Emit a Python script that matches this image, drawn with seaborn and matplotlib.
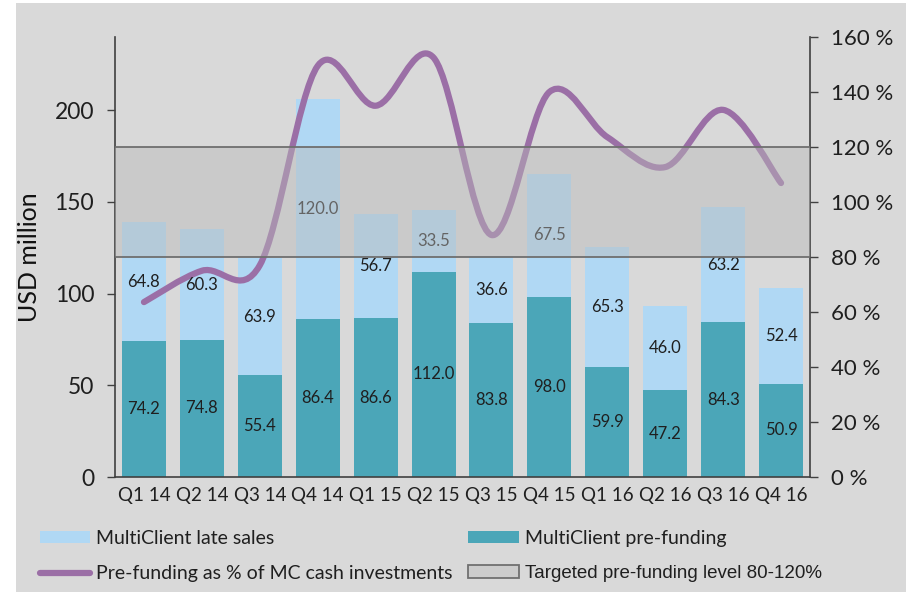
import numpy as np
import pandas as pd
import matplotlib
matplotlib.use("Agg")
import matplotlib.pyplot as plt
import seaborn as sns
from matplotlib.path import Path
from matplotlib.patches import PathPatch, Patch, Rectangle
from matplotlib.lines import Line2D

# Chart data
quarters = ["Q1 14", "Q2 14", "Q3 14", "Q4 14", "Q1 15", "Q2 15",
            "Q3 15", "Q4 15", "Q1 16", "Q2 16", "Q3 16", "Q4 16"]
prefunding = [74.2, 74.8, 55.4, 86.4, 86.6, 112.0, 83.8, 98.0, 59.9, 47.2, 84.3, 50.9]
late_sales = [64.8, 60.3, 63.9, 120.0, 56.7, 33.5, 36.6, 67.5, 65.3, 46.0, 63.2, 52.4]
prefunding_pct = [63.6, 75.0, 77.0, 149.5, 135.0, 152.5, 88.0, 140.0, 123.6, 112.7, 133.5, 106.9]
target_low, target_high = 80, 120

light_blue = "#b0d8f4"
teal = "#4ba6b8"
purple = "#9b6fa6"
bg_grey = "#d9d9d9"

sns.set_theme(style="white")
plt.rcParams["font.family"] = ["Lato", "DejaVu Sans"]
plt.rcParams["text.color"] = "#1f1f1f"

df = pd.DataFrame({"quarter": quarters, "prefunding": prefunding, "late": late_sales})
df["total"] = df["prefunding"] + df["late"]

fig = plt.figure(figsize=(9.06, 5.92), dpi=100)
fig.patch.set_facecolor("white")
fig.add_artist(Rectangle((16 / 906, 0), 1, 1 - 3 / 592, transform=fig.transFigure,
                         facecolor=bg_grey, edgecolor="none", zorder=-5))

ax = fig.add_axes([115 / 906, 1 - 477 / 592, 695 / 906, 440 / 592])
ax.set_facecolor("none")

# stacked bars: total (late sales on top) then pre-funding over it
sns.barplot(data=df, x="quarter", y="total", color=light_blue, saturation=1,
            width=0.76, errorbar=None, linewidth=0, ax=ax)
sns.barplot(data=df, x="quarter", y="prefunding", color=teal, saturation=1,
            width=0.76, errorbar=None, linewidth=0, ax=ax)

ax.set_ylim(0, 240)
ax.set_xlim(-0.5, len(quarters) - 0.5)
ax.set_yticks([0, 50, 100, 150, 200])
ax.set_xlabel("")
ax.set_ylabel("USD million", fontsize=18, labelpad=10, color="#111111")
ax.tick_params(axis="y", left=True, length=6, width=1, color="#404040", pad=9,
               labelsize=16.5, labelcolor="#1f1f1f")
ax.tick_params(axis="x", bottom=False, length=0, pad=7, labelsize=13.5, labelcolor="#1f1f1f")
for s in ["top", "right"]:
    ax.spines[s].set_visible(False)
for s in ["left", "bottom"]:
    ax.spines[s].set_color("#404040")
    ax.spines[s].set_linewidth(1.2)

# secondary axis for the percentage line
ax2 = ax.twinx()
ax2.set_ylim(0, 160)
ax2.set_yticks(range(0, 161, 20))
ax2.set_yticklabels([f"{v} %" for v in range(0, 161, 20)])
ax2.tick_params(axis="y", right=True, length=6, width=1, color="#404040", pad=9,
                labelsize=16, labelcolor="#1f1f1f")
for s in ["top", "left", "bottom"]:
    ax2.spines[s].set_visible(False)
ax2.spines["right"].set_color("#404040")
ax2.spines["right"].set_linewidth(1.2)

# smooth line through the points (Catmull-Rom style Bezier like Excel)
pts = np.column_stack([np.arange(len(quarters)), prefunding_pct])
ext = np.vstack([pts[0], pts, pts[-1]])
verts = [pts[0]]
codes = [Path.MOVETO]
for i in range(len(pts) - 1):
    p0, p1, p2, p3 = ext[i], ext[i + 1], ext[i + 2], ext[i + 3]
    verts += [p1 + (p2 - p0) / 6, p2 - (p3 - p1) / 6, p2]
    codes += [Path.CURVE4] * 3
line = PathPatch(Path(verts, codes), facecolor="none", edgecolor=purple, lw=4.5,
                 capstyle="round", joinstyle="round", zorder=2)
ax2.add_patch(line)

# value labels
for i, row in df.iterrows():
    ax2.text(i, row["prefunding"] / 2, f"{row['prefunding']:.1f}", transform=ax.transData,
             ha="center", va="center", fontsize=12, color="#1f1f1f", zorder=3)
    ax2.text(i, row["prefunding"] + row["late"] / 2, f"{row['late']:.1f}", transform=ax.transData,
             ha="center", va="center", fontsize=12, color="#1f1f1f", zorder=3)

# targeted band
ax2.axhspan(target_low, target_high, facecolor="#b9b9b9", alpha=0.45, edgecolor="none", zorder=4)
for v in [target_low, target_high]:
    ax2.axhline(v, color="#6f6f6f", lw=1.3, zorder=5)

handles = [
    Patch(facecolor=light_blue, edgecolor="none"),
    Line2D([], [], color=purple, lw=4.5, solid_capstyle="round"),
    Patch(facecolor=teal, edgecolor="none"),
    Patch(facecolor="#cccccc", edgecolor="#707070", lw=1.3),
]
labels = ["MultiClient late sales", "Pre-funding as % of MC cash investments",
          "MultiClient pre-funding", "Targeted pre-funding level 80-120%"]
leg = fig.legend(handles, labels, ncol=2, loc="upper left", frameon=False,
                 bbox_to_anchor=(32 / 906, 1 - 522 / 592), fontsize=14,
                 handlelength=2.6, handleheight=0.6, handletextpad=0.3,
                 columnspacing=0.8, labelspacing=0.95, borderaxespad=0)
leg.get_texts()[3].set_family("Liberation Sans")
leg.get_texts()[3].set_fontsize(13.5)

fig.savefig("out.png", dpi=100, facecolor=fig.get_facecolor())
